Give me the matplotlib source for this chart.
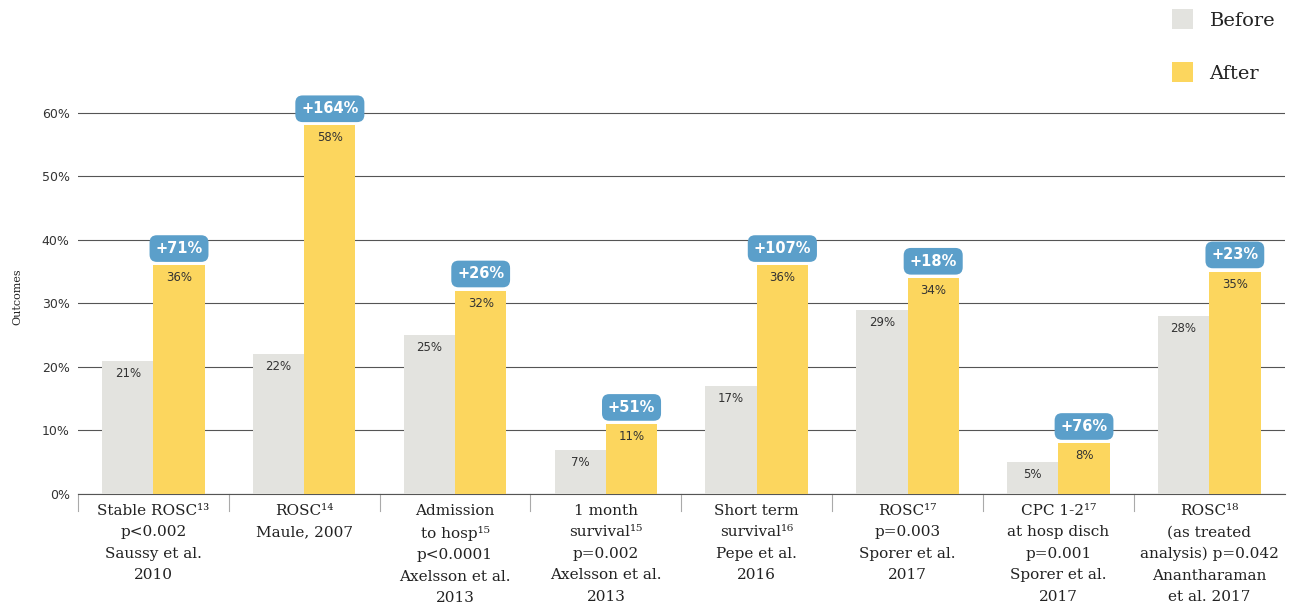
import matplotlib.pyplot as plt
from matplotlib.patches import Rectangle
import numpy as np

categories = [
    "Stable ROSC¹³\np<0.002\nSaussy et al.\n2010",
    "ROSC¹⁴\nMaule, 2007",
    "Admission\nto hosp¹⁵\np<0.0001\nAxelsson et al.\n2013",
    "1 month\nsurvival¹⁵\np=0.002\nAxelsson et al.\n2013",
    "Short term\nsurvival¹⁶\nPepe et al.\n2016",
    "ROSC¹⁷\np=0.003\nSporer et al.\n2017",
    "CPC 1-2¹⁷\nat hosp disch\np=0.001\nSporer et al.\n2017",
    "ROSC¹⁸\n(as treated\nanalysis) p=0.042\nAnantharaman\net al. 2017",
]
before = [21, 22, 25, 7, 17, 29, 5, 28]
after = [36, 58, 32, 11, 36, 34, 8, 35]
change = ["+71%", "+164%", "+26%", "+51%", "+107%", "+18%", "+76%", "+23%"]
yticks = [0, 10, 20, 30, 40, 50, 60]

c_before = "#e3e3df"
c_after = "#fcd65e"
c_badge = "#5b9fca"

fig = plt.figure(figsize=(12.95, 6.08), dpi=100)
ax = fig.add_axes([0.0602, 0.1875, 0.9318, 0.648])

x = np.arange(len(categories))
w = 0.34
ax.bar(x - w / 2, before, w, color=c_before, zorder=3)
ax.bar(x + w / 2, after, w, color=c_after, zorder=3)

for i in range(len(x)):
    ax.annotate(f"{before[i]}%", (x[i] - w / 2, before[i]), xytext=(0, -9),
                textcoords="offset points", ha="center", va="center",
                fontsize=8.5, color="#333333", zorder=4)
    ax.annotate(f"{after[i]}%", (x[i] + w / 2, after[i]), xytext=(0, -9),
                textcoords="offset points", ha="center", va="center",
                fontsize=8.5, color="#333333", zorder=4)
    ax.annotate(change[i], (x[i] + w / 2, after[i]), xytext=(0, 12),
                textcoords="offset points", ha="center", va="center",
                fontsize=10.5, fontweight="bold", color="white", zorder=5,
                bbox=dict(boxstyle="round,pad=0.4,rounding_size=0.5",
                          facecolor=c_badge, edgecolor="none"),
                annotation_clip=False)

ax.set_xlim(-0.5, len(x) - 0.5)
ax.set_ylim(0, 62)
ax.set_yticks(yticks)
ax.set_yticklabels([f"{t}%" for t in yticks], fontsize=9, color="#333333")
ax.tick_params(axis="y", length=0, pad=6)
ax.yaxis.grid(True, color="#555555", linewidth=0.8, zorder=0)
ax.set_axisbelow(True)

ax.set_xticks(x)
ax.set_xticklabels(categories, family="DejaVu Serif", fontsize=11,
                   color="#222222", linespacing=1.68, va="top")
ax.tick_params(axis="x", length=0, pad=7)

for s in ["top", "right", "left"]:
    ax.spines[s].set_visible(False)
ax.spines["bottom"].set_color("#555555")
ax.spines["bottom"].set_linewidth(0.8)

# separators between groups
for b in np.arange(len(x)) - 0.5:
    ax.plot([b, b], [0, -2.6], color="#aaaaaa", linewidth=0.8, clip_on=False)

ax.set_ylabel("Outcomes", family="DejaVu Serif", fontsize=8, color="#222222",
              labelpad=14)

# legend
fig.patches.append(Rectangle((0.905, 0.952), 0.016, 0.033, transform=fig.transFigure,
                             facecolor=c_before, edgecolor="none"))
fig.patches.append(Rectangle((0.905, 0.865), 0.016, 0.033, transform=fig.transFigure,
                             facecolor=c_after, edgecolor="none"))
fig.text(0.934, 0.966, "Before", family="DejaVu Serif", fontsize=14,
         color="#222222", va="center")
fig.text(0.934, 0.879, "After", family="DejaVu Serif", fontsize=14,
         color="#222222", va="center")

fig.savefig("out.png", dpi=100)
